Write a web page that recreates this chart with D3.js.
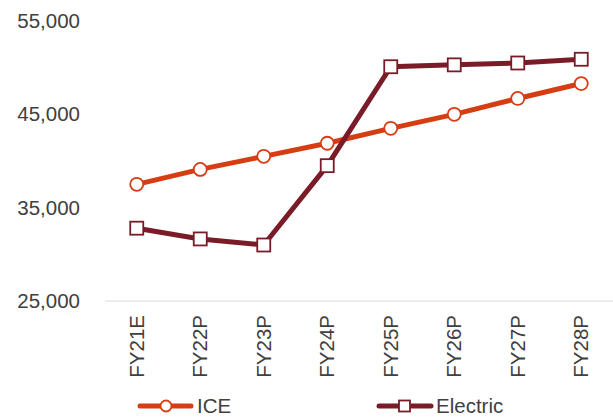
<!DOCTYPE html>
<html>
  <head>
    <meta charset="utf-8">
    <script src="https://d3js.org/d3.v7.min.js"></script>
    <style>
      body { margin: 0px; background: #fff; }
      .tick text, .legend-label {
        fill: #404040;
        font-size: 20.5px;
        font-family: 'Liberation Sans', Arial, sans-serif;
      }
    </style>
  </head>
  <body>
    <svg width="613" height="417"></svg>
    <script>
      const categories = ['FY21E', 'FY22P', 'FY23P', 'FY24P', 'FY25P', 'FY26P', 'FY27P', 'FY28P'];
      const iceValues = [37500, 39100, 40500, 41900, 43500, 45000, 46700, 48300];
      const electricValues = [32800, 31650, 31000, 39500, 50100, 50300, 50500, 50900];
      const yTicks = [25000, 35000, 45000, 55000];

      const iceColor = '#d63d13';
      const elecColor = '#7a1c28';

      const svg = d3.select('svg');
      const plotLeft = 105, plotRight = 613, plotTop = 21, plotBottom = 301;

      const xScale = d3.scaleBand()
        .domain(categories)
        .range([plotLeft, plotRight]);
      const yScale = d3.scaleLinear()
        .domain([25000, 55000])
        .range([plotBottom, plotTop]);

      const xc = d => xScale(d) + xScale.bandwidth() / 2;

      // y axis (labels only)
      const yAxis = d3.axisLeft(yScale)
        .tickValues(yTicks)
        .tickSize(0)
        .tickPadding(0)
        .tickFormat(d3.format(','));
      const yAxisG = svg.append('g')
        .attr('transform', 'translate(80,0)')
        .call(yAxis);
      yAxisG.select('.domain').remove();

      // x axis
      svg.append('line')
        .attr('x1', plotLeft).attr('x2', plotRight)
        .attr('y1', plotBottom).attr('y2', plotBottom)
        .attr('stroke', '#d9d9d9')
        .attr('stroke-width', 1.2);

      const xAxis = d3.axisBottom(xScale).tickSize(0).tickPadding(0);
      const xAxisG = svg.append('g')
        .attr('transform', `translate(0,${plotBottom})`)
        .call(xAxis);
      xAxisG.select('.domain').remove();
      xAxisG.selectAll('.tick text')
        .attr('text-anchor', 'end')
        .attr('transform', 'translate(0,14) rotate(-90)')
        .attr('x', 0)
        .attr('y', 0)
        .attr('dy', '0.35em');

      const line = d3.line()
        .x((d, i) => xc(categories[i]))
        .y(d => yScale(d));

      // ICE
      svg.append('path')
        .datum(iceValues)
        .attr('d', line)
        .attr('fill', 'none')
        .attr('stroke', iceColor)
        .attr('stroke-width', 5);

      // Electric
      svg.append('path')
        .datum(electricValues)
        .attr('d', line)
        .attr('fill', 'none')
        .attr('stroke', elecColor)
        .attr('stroke-width', 5);

      svg.selectAll('.ice-pt').data(iceValues)
        .enter().append('circle')
          .attr('class', 'ice-pt')
          .attr('cx', (d, i) => xc(categories[i]))
          .attr('cy', d => yScale(d))
          .attr('r', 6.5)
          .attr('fill', '#fff')
          .attr('stroke', iceColor)
          .attr('stroke-width', 1.8);

      svg.selectAll('.elec-pt').data(electricValues)
        .enter().append('rect')
          .attr('class', 'elec-pt')
          .attr('x', (d, i) => xc(categories[i]) - 6.5)
          .attr('y', d => yScale(d) - 6.5)
          .attr('width', 13)
          .attr('height', 13)
          .attr('fill', '#fff')
          .attr('stroke', elecColor)
          .attr('stroke-width', 1.8);

      // legend
      const legendY = 406;
      const lg = svg.append('g');
      lg.append('line')
        .attr('x1', 140).attr('x2', 191)
        .attr('y1', legendY).attr('y2', legendY)
        .attr('stroke', iceColor).attr('stroke-width', 5)
        .attr('stroke-linecap', 'round');
      lg.append('circle')
        .attr('cx', 166).attr('cy', legendY).attr('r', 5.5)
        .attr('fill', '#fff').attr('stroke', iceColor).attr('stroke-width', 1.8);
      lg.append('text')
        .attr('class', 'legend-label')
        .attr('x', 197).attr('y', legendY).attr('dy', '0.35em')
        .text('ICE');

      lg.append('line')
        .attr('x1', 379).attr('x2', 431)
        .attr('y1', legendY).attr('y2', legendY)
        .attr('stroke', elecColor).attr('stroke-width', 5)
        .attr('stroke-linecap', 'round');
      lg.append('rect')
        .attr('x', 399).attr('y', legendY - 5.5).attr('width', 11).attr('height', 11)
        .attr('fill', '#fff').attr('stroke', elecColor).attr('stroke-width', 1.8);
      lg.append('text')
        .attr('class', 'legend-label')
        .attr('x', 436).attr('y', legendY).attr('dy', '0.35em')
        .text('Electric');
    </script>
  </body>
</html>
